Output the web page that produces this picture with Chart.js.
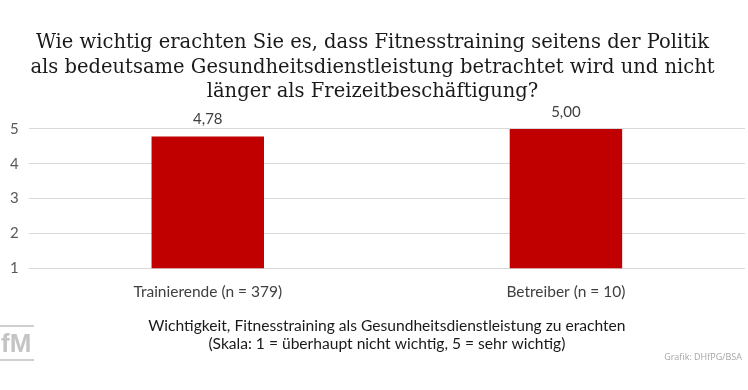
<!DOCTYPE html>
<html>
<head>
<meta charset="utf-8">
<script src="https://cdn.jsdelivr.net/npm/chart.js@4"></script>
<style>
  body { margin: 0; background: #fff; }
  #wrap { position: relative; width: 748px; height: 390px; }
  #logo { position: absolute; left: 0; top: 325px; font: bold 26px "Liberation Sans Narrow", "Liberation Sans"; color: #c4c4c4;
          border-top: 2px solid #cfcfcf; border-bottom: 2px solid #cfcfcf; line-height: 32px; padding: 0 3px 0 1px; }
  #src { position: absolute; right: 6px; top: 350px; font: 9px "Open Sans"; color: #a6a6a6; }
</style>
</head>
<body>
<div id="wrap">
  <canvas id="chart" width="748" height="390"></canvas>
  <div id="logo">fM</div>
  <div id="src">Grafik: DHfPG/BSA</div>
</div>
<script>
var categories = ["Trainierende (n = 379)", "Betreiber (n = 10)"];
var values = [4.78, 5.00];
var titleLines = ["Wie wichtig erachten Sie es, dass Fitnesstraining seitens der Politik",
                  "als bedeutsame Gesundheitsdienstleistung betrachtet wird und nicht",
                  "länger als Freizeitbeschäftigung?"];
var axisTitle = ["Wichtigkeit, Fitnesstraining als Gesundheitsdienstleistung zu erachten",
                 "(Skala: 1 = überhaupt nicht wichtig, 5 = sehr wichtig)"];

var labelPlugin = {
    id: 'valueLabels',
    afterDatasetsDraw: function(chart) {
        var ctx = chart.ctx;
        var meta = chart.getDatasetMeta(0);
        ctx.save();
        ctx.font = '15px Lato';
        ctx.fillStyle = '#404040';
        ctx.textAlign = 'center';
        ctx.textBaseline = 'middle';
        meta.data.forEach(function(bar, i) {
            ctx.fillText(values[i].toFixed(2).replace('.', ','), bar.x, bar.y - 17);
        });
        ctx.restore();
    }
};

var ctx = document.getElementById('chart');
new Chart(ctx, {
    type: 'bar',
    data: {
        labels: categories,
        datasets: [{
            data: values,
            backgroundColor: '#C00000',
            categoryPercentage: 1,
            barPercentage: 0.314
        }]
    },
    options: {
        responsive: false,
        animation: false,
        layout: { padding: { left: 0, right: 3, top: 0, bottom: 37 } },
        plugins: {
            legend: { display: false },
            tooltip: { enabled: false },
            title: {
                display: true,
                text: titleLines,
                color: '#1a1a1a',
                font: { family: 'DejaVu Serif', size: 19.5, weight: 'normal', lineHeight: 1.28 },
                padding: { top: 30, bottom: 24 }
            }
        },
        scales: {
            x: {
                grid: { display: false },
                border: { display: false },
                ticks: { color: '#404040', font: { family: 'Lato', size: 15.5 }, padding: 6 },
                title: {
                    display: true,
                    text: axisTitle,
                    color: '#1a1a1a',
                    font: { family: 'Lato', size: 15.6, lineHeight: 1.16 },
                    padding: { top: 10, bottom: 0 }
                }
            },
            y: {
                min: 1,
                max: 5,
                ticks: { stepSize: 1, color: '#595959', font: { family: 'Lato', size: 15 }, padding: 10 },
                grid: { color: '#d9d9d9', drawTicks: false },
                border: { display: false }
            }
        }
    },
    plugins: [labelPlugin]
});
</script>
</body>
</html>
